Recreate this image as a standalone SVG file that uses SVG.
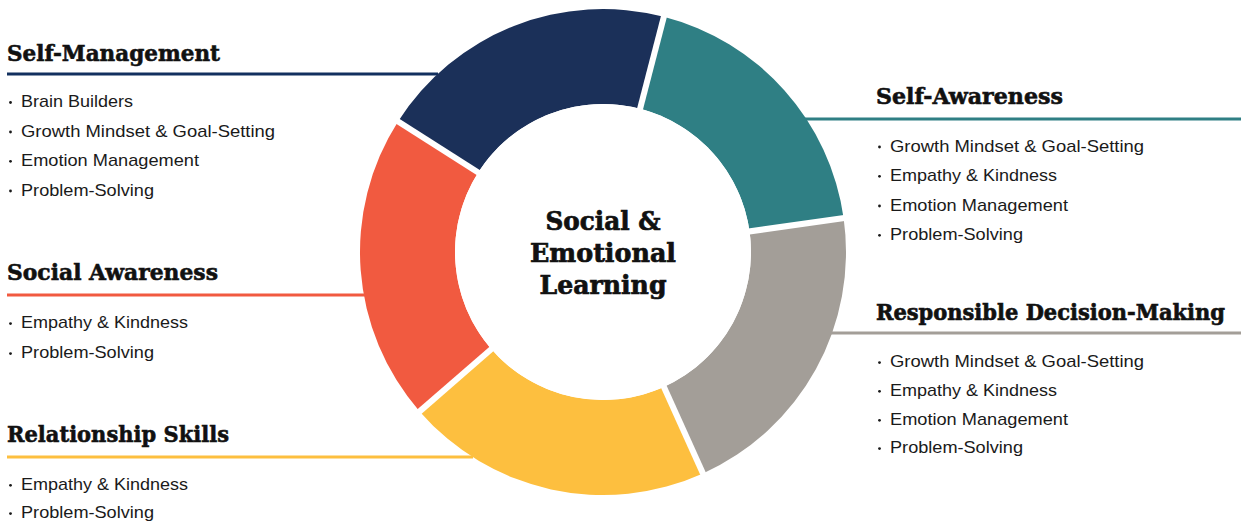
<svg xmlns="http://www.w3.org/2000/svg" width="1241" height="529" viewBox="0 0 1241 529">
<style>
.hd{font-family:"DejaVu Serif","Liberation Serif",serif;font-weight:bold;font-size:23px;fill:#111;stroke:#111;stroke-width:0.6}
.ct{font-family:"DejaVu Serif","Liberation Serif",serif;font-weight:bold;font-size:26px;fill:#111;stroke:#111;stroke-width:0.7;text-anchor:middle}
.it{font-family:"Liberation Sans",Arial,sans-serif;font-size:17px;fill:#1a1a1a}
.bl{fill:#1a1a1a}
.sep{stroke:#fff;stroke-width:6}
.ln{stroke-width:3;fill:none}
</style>
<rect width="1241" height="529" fill="#fff"/>
<g id="connectors">
<line class="ln" x1="7" y1="74" x2="438" y2="74" stroke="#12305f"/>
<line class="ln" x1="800" y1="119" x2="1241" y2="119" stroke="#2f7f84"/>
<line class="ln" x1="830" y1="333" x2="1241" y2="333" stroke="#a39e98"/>
<line class="ln" x1="7" y1="295" x2="365" y2="295" stroke="#f15a40"/>
<line class="ln" x1="7" y1="457" x2="473" y2="457" stroke="#fdbf3f"/>
</g>
<g id="donut">
<path id="seg-self-management" d="M398.05 121.44 A243 243 0 0 1 663.84 16.75 L640.06 108.72 A148 148 0 0 0 478.18 172.48 Z" fill="#1b3059"/>
<path id="seg-self-awareness" d="M663.84 16.75 A243 243 0 0 1 843.64 218.18 L749.56 231.40 A148 148 0 0 0 640.06 108.72 Z" fill="#2f7f84"/>
<path id="seg-responsible" d="M843.64 218.18 A243 243 0 0 1 703.0 473.47 L663.9 386.89 A148 148 0 0 0 749.56 231.40 Z" fill="#a39e98"/>
<path id="seg-relationship" d="M703.0 473.47 A243 243 0 0 1 419.61 411.43 L491.30 349.10 A148 148 0 0 0 663.9 386.89 Z" fill="#fdbf3f"/>
<path id="seg-social" d="M419.61 411.43 A243 243 0 0 1 398.05 121.44 L478.18 172.48 A148 148 0 0 0 491.30 349.10 Z" fill="#f15a40"/>
<line class="sep" x1="603" y1="252" x2="665.35" y2="10.94"/>
<line class="sep" x1="603" y1="252" x2="849.58" y2="217.34"/>
<line class="sep" x1="603" y1="252" x2="705.46" y2="478.94"/>
<line class="sep" x1="603" y1="252" x2="415.08" y2="415.37"/>
<line class="sep" x1="603" y1="252" x2="393.0" y2="118.21"/>
<circle cx="603" cy="252" r="148" fill="#fff"/>
</g>
<g id="center">
<text class="ct" x="603" y="230" textLength="115" lengthAdjust="spacingAndGlyphs">Social &amp;</text>
<text class="ct" x="603" y="262" textLength="146" lengthAdjust="spacingAndGlyphs">Emotional</text>
<text class="ct" x="603" y="294" textLength="127" lengthAdjust="spacingAndGlyphs">Learning</text>
</g>
<g id="self-management">
<text class="hd" x="7" y="61" textLength="213" lengthAdjust="spacingAndGlyphs">Self-Management</text>
<circle class="bl" cx="10.5" cy="102.5" r="1.4"/><text class="it" x="21" y="107.3" textLength="112" lengthAdjust="spacingAndGlyphs">Brain Builders</text>
<circle class="bl" cx="10.5" cy="132" r="1.4"/><text class="it" x="21" y="136.7" textLength="254" lengthAdjust="spacingAndGlyphs">Growth Mindset &amp; Goal-Setting</text>
<circle class="bl" cx="10.5" cy="161.3" r="1.4"/><text class="it" x="21" y="166" textLength="178" lengthAdjust="spacingAndGlyphs">Emotion Management</text>
<circle class="bl" cx="10.5" cy="191" r="1.4"/><text class="it" x="21" y="195.7" textLength="133" lengthAdjust="spacingAndGlyphs">Problem-Solving</text>
</g>
<g id="self-awareness">
<text class="hd" x="876" y="104" textLength="187" lengthAdjust="spacingAndGlyphs">Self-Awareness</text>
<circle class="bl" cx="879.5" cy="147" r="1.4"/><text class="it" x="890" y="151.7" textLength="254" lengthAdjust="spacingAndGlyphs">Growth Mindset &amp; Goal-Setting</text>
<circle class="bl" cx="879.5" cy="176.3" r="1.4"/><text class="it" x="890" y="181" textLength="167" lengthAdjust="spacingAndGlyphs">Empathy &amp; Kindness</text>
<circle class="bl" cx="879.5" cy="206" r="1.4"/><text class="it" x="890" y="210.7" textLength="178" lengthAdjust="spacingAndGlyphs">Emotion Management</text>
<circle class="bl" cx="879.5" cy="235.3" r="1.4"/><text class="it" x="890" y="240" textLength="133" lengthAdjust="spacingAndGlyphs">Problem-Solving</text>
</g>
<g id="responsible-decision-making">
<text class="hd" transform="translate(876 320) scale(1 1.1)" x="0" y="0" style="font-size:21px" textLength="349" lengthAdjust="spacingAndGlyphs">Responsible Decision-Making</text>
<circle class="bl" cx="879.5" cy="362.6" r="1.4"/><text class="it" x="890" y="367.3" textLength="254" lengthAdjust="spacingAndGlyphs">Growth Mindset &amp; Goal-Setting</text>
<circle class="bl" cx="879.5" cy="391.3" r="1.4"/><text class="it" x="890" y="396" textLength="167" lengthAdjust="spacingAndGlyphs">Empathy &amp; Kindness</text>
<circle class="bl" cx="879.5" cy="420.3" r="1.4"/><text class="it" x="890" y="425" textLength="178" lengthAdjust="spacingAndGlyphs">Emotion Management</text>
<circle class="bl" cx="879.5" cy="448.6" r="1.4"/><text class="it" x="890" y="453.3" textLength="133" lengthAdjust="spacingAndGlyphs">Problem-Solving</text>
</g>
<g id="social-awareness">
<text class="hd" x="7" y="280" textLength="211" lengthAdjust="spacingAndGlyphs">Social Awareness</text>
<circle class="bl" cx="10.5" cy="323.6" r="1.4"/><text class="it" x="21" y="328.3" textLength="167" lengthAdjust="spacingAndGlyphs">Empathy &amp; Kindness</text>
<circle class="bl" cx="10.5" cy="353.6" r="1.4"/><text class="it" x="21" y="358.3" textLength="133" lengthAdjust="spacingAndGlyphs">Problem-Solving</text>
</g>
<g id="relationship-skills">
<text class="hd" x="7" y="442" textLength="222" lengthAdjust="spacingAndGlyphs">Relationship Skills</text>
<circle class="bl" cx="10.5" cy="485.3" r="1.4"/><text class="it" x="21" y="490" textLength="167" lengthAdjust="spacingAndGlyphs">Empathy &amp; Kindness</text>
<circle class="bl" cx="10.5" cy="513.6" r="1.4"/><text class="it" x="21" y="518.3" textLength="133" lengthAdjust="spacingAndGlyphs">Problem-Solving</text>
</g>
</svg>
